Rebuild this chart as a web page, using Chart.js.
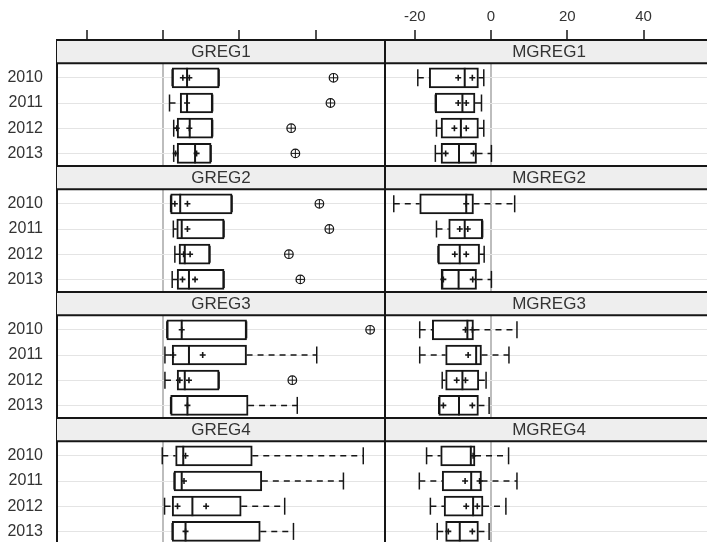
<!DOCTYPE html>
<html>
<head>
<meta charset="utf-8">
<script src="https://cdn.jsdelivr.net/npm/chart.js@4.4.1/dist/chart.umd.min.js"></script>
<style>
  html, body { margin: 0; padding: 0; background: #fff; overflow: hidden; }
  canvas { position: absolute; left: 0; top: 0; }
</style>
</head>
<body>
<canvas id="chart" width="716" height="548"></canvas>
<script>
const years = ['2010', '2011', '2012', '2013'];
const leftPanels = ['GREG1', 'GREG2', 'GREG3', 'GREG4'];
const rightPanels = ['MGREG1', 'MGREG2', 'MGREG3', 'MGREG4'];
const tickValues = [-20, 0, 20, 40];

// GREG columns, 4 years per panel (GREG1..GREG4)
const gLow  = [2.4, 1.7, 2.8, 2.8,   2.0, 2.7, 3.1, 2.4,   1.0, 0.5, 0.5, 2.0,   -0.2, 2.9, 0.4, 2.4];
const gQ1   = [2.4, 4.5, 3.7, 3.7,   2.0, 3.6, 4.2, 3.7,   1.0, 2.4, 3.7, 2.0,   3.3, 2.9, 2.4, 2.4];
const gMed  = [6.3, 6.3, 7.0, 8.4,   4.5, 4.9, 5.7, 6.8,   4.9, 6.8, 5.7, 6.4,   5.3, 4.9, 7.7, 5.9];
const gQ3   = [14.7, 13.0, 13.0, 12.6,   18.1, 16.0, 12.3, 16.0,   21.9, 21.9, 14.7, 22.3,   23.4, 25.9, 20.5, 25.5];
const gHigh = [14.7, 13.0, 13.0, 12.6,   18.1, 16.0, 12.3, 16.0,   21.9, 40.3, 14.7, 35.2,   52.5, 47.3, 31.9, 34.2];
const gMean = [6.9, 6.3, 6.9, 8.8,   6.4, 6.4, 7.1, 8.4,   4.9, 10.4, 6.8, 6.4,   5.9, 5.5, 11.3, 5.9];
const gMark = [5.2, null, 3.6, 3.3,   3.1, null, 5.4, 5.1,   null, 2.7, 4.4, null,   null, null, 3.8, null];
const gOut  = [44.7, 43.9, 33.6, 34.7,   41.0, 43.6, 33.0, 36.0,   54.3, null, 33.9, null,   null, null, null, null];

// MGREG columns
const mLow  = [-19.2, -14.6, -14.3, -14.6,   -25.5, -14.3, -13.9, -12.7,   -18.7, -18.7, -12.8, -13.7,   -16.9, -18.8, -15.9, -14.1];
const mQ1   = [-16.2, -14.6, -13.1, -13.1,   -18.7, -11.1, -13.9, -13.1,   -15.4, -11.9, -11.9, -13.7,   -13.2, -12.8, -12.3, -11.9];
const mMed  = [-6.9, -7.5, -7.9, -8.4,   -6.5, -6.9, -8.2, -8.5,   -6.2, -3.9, -7.5, -8.4,   -5.3, -5.2, -4.7, -8.2];
const mQ3   = [-3.3, -4.2, -3.3, -3.8,   -4.6, -2.2, -3.0, -3.8,   -4.6, -2.5, -3.2, -3.3,   -4.2, -2.5, -2.1, -3.3];
const mHigh = [-1.9, -2.5, -1.9, 0.1,   6.2, -2.2, -1.8, 0.1,   6.8, 4.7, -1.3, -0.5,   4.6, 6.8, 3.9, -0.5];
const mMean = [-4.9, -6.5, -6.5, -4.6,   -6.5, -6.1, -6.5, -4.8,   -6.7, -6.0, -6.7, -4.9,   -4.7, -3.0, -3.6, -4.9];
const mMark = [-8.6, -8.6, -9.6, -11.9,   null, -8.2, -9.5, -12.5,   -4.9, null, -9.0, -12.5,   null, -6.8, -6.5, -11.2];
const mOut  = [null, null, null, null,   null, null, null, null,   null, null, null, null,   null, null, null, null];

const axisMin = -27.8;
const axisMax = 58.2;
const ink = '#161616';
const fontFamily = "'Liberation Sans', Arial, sans-serif";

// one category per strip and per year row
const rowLabels = [];
const rowKeys = [];
leftPanels.forEach(p => {
    rowLabels.push(p);
    years.forEach(y => {
        rowLabels.push(p + ' ' + y);
        rowKeys.push(p + ' ' + y);
    });
});

function pts(values) {
    const out = [];
    values.forEach((v, k) => {
        if (v !== null) out.push({x: v, y: rowKeys[k]});
    });
    return out;
}

function columnDatasets(axisId, low, q1, med, q3, high, mean, mark, outl) {
    const whisk = [];
    const caps = [];
    rowKeys.forEach((key, k) => {
        whisk.push({x: low[k], y: key}, {x: q1[k], y: key}, {x: null, y: null});
        whisk.push({x: q3[k], y: key}, {x: high[k], y: key}, {x: null, y: null});
        caps.push({x: low[k], y: key}, {x: high[k], y: key});
    });
    const common = {xAxisID: axisId, yAxisID: 'y'};
    return [
        {...common, type: 'bar', indexAxis: 'y', order: 6, grouped: false,
            data: rowKeys.map((key, k) => ({x: [q1[k], q3[k]], y: key})),
            backgroundColor: '#ffffff', borderColor: ink, borderWidth: 2,
            borderSkipped: false, barThickness: 20},
        {...common, type: 'scatter', order: 5, data: whisk, showLine: true, spanGaps: false,
            borderColor: ink, borderWidth: 1.5, borderDash: [6, 5], pointRadius: 0},
        {...common, type: 'scatter', order: 4, data: caps, pointStyle: 'line', rotation: 90,
            pointRadius: 8.5, borderColor: ink, pointBorderWidth: 1.5},
        {...common, type: 'scatter', order: 3, data: pts(med), pointStyle: 'line', rotation: 90,
            pointRadius: 10, borderColor: ink, pointBorderWidth: 2},
        {...common, type: 'scatter', order: 2, data: pts(mean), pointStyle: 'cross',
            pointRadius: 3, borderColor: ink, pointBorderWidth: 1.6},
        {...common, type: 'scatter', order: 2, data: pts(mark), pointStyle: 'cross',
            pointRadius: 3, borderColor: ink, pointBorderWidth: 1.6},
        {...common, type: 'scatter', order: 1, data: pts(outl), pointStyle: 'circle',
            pointRadius: 4.3, backgroundColor: '#ffffff', borderColor: ink, pointBorderWidth: 1.2},
        {...common, type: 'scatter', order: 0, data: pts(outl), pointStyle: 'cross',
            pointRadius: 4.3, borderColor: ink, pointBorderWidth: 1}
    ];
}

function xAxis(showLabels) {
    return {
        type: 'linear', position: 'top', stack: 'cols', stackWeight: 1,
        offset: false,
        min: axisMin, max: axisMax,
        afterBuildTicks: s => { s.ticks = tickValues.map(v => ({value: v})); },
        afterFit: s => {
            s.height = 40;
            s.paddingLeft = 0;
            s.paddingRight = 0;
        },
        grid: {
            offset: false,
            color: c => (c.tick && c.tick.value === 0 ? '#bdbdbd' : 'rgba(0,0,0,0)'),
            lineWidth: 2, tickColor: ink, tickWidth: 1.5, tickLength: 10
        },
        border: {display: true, color: ink, width: 2},
        ticks: {display: showLabels, color: '#333', padding: 4,
            font: {family: fontFamily, size: 15}}
    };
}

// strips, strip labels and panel borders
const panelPlugin = {
    id: 'panels',
    beforeDatasetsDraw(chart) {
        const {ctx, chartArea, scales} = chart;
        const yS = scales.y;
        const band = yS.getPixelForValue(1) - yS.getPixelForValue(0);
        ctx.save();
        leftPanels.forEach((name, i) => {
            const top = yS.getPixelForValue(rowLabels.indexOf(name)) - band / 2;
            const h = band - 2;
            [[scales.xl, leftPanels[i]], [scales.xr, rightPanels[i]]].forEach(([sc, label]) => {
                ctx.fillStyle = '#eeeeee';
                ctx.fillRect(sc.left, top, sc.right - sc.left, h);
                ctx.fillStyle = '#333';
                ctx.font = '17px ' + fontFamily;
                ctx.textAlign = 'center';
                ctx.textBaseline = 'middle';
                ctx.fillText(label, (sc.left + sc.right) / 2, top + h / 2 + 1);
            });
            ctx.strokeStyle = ink;
            ctx.lineWidth = 2;
            ctx.beginPath();
            ctx.moveTo(chartArea.left, top);
            ctx.lineTo(chartArea.right, top);
            ctx.moveTo(chartArea.left, top + h);
            ctx.lineTo(chartArea.right, top + h);
            ctx.stroke();
        });
        const xs = Math.round(scales.xr.left);
        ctx.beginPath();
        ctx.moveTo(xs, chartArea.top);
        ctx.lineTo(xs, chartArea.bottom);
        ctx.stroke();
        ctx.restore();
    }
};

new Chart(document.getElementById('chart'), {
    type: 'bar',
    data: {
        labels: rowLabels,
        datasets: [
            ...columnDatasets('xl', gLow, gQ1, gMed, gQ3, gHigh, gMean, gMark, gOut),
            ...columnDatasets('xr', mLow, mQ1, mMed, mQ3, mHigh, mMean, mMark, mOut)
        ]
    },
    options: {
        responsive: false,
        animation: false,
        events: [],
        layout: {autoPadding: false, padding: {left: 0, top: 0, right: 3, bottom: 4}},
        plugins: {
            legend: {display: false},
            tooltip: {enabled: false}
        },
        scales: {
            // top boxes are laid out in reverse, so the right column comes first
            xr: xAxis(true),
            xl: xAxis(false),
            y: {
                type: 'category', position: 'left', labels: rowLabels, offset: true,
                afterFit: s => {
                    s.width = 57;
                    s.paddingTop = 0;
                    s.paddingBottom = 0;
                },
                grid: {offset: false, color: '#e4e4e4', lineWidth: 1, drawTicks: false},
                border: {color: ink, width: 2},
                ticks: {
                    autoSkip: false, padding: 14, color: '#333',
                    font: {family: fontFamily, size: 16},
                    callback: function (v) {
                        return this.getLabelForValue(v).split(' ')[1] || '';
                    }
                }
            }
        }
    },
    plugins: [panelPlugin]
});
</script>
</body>
</html>
